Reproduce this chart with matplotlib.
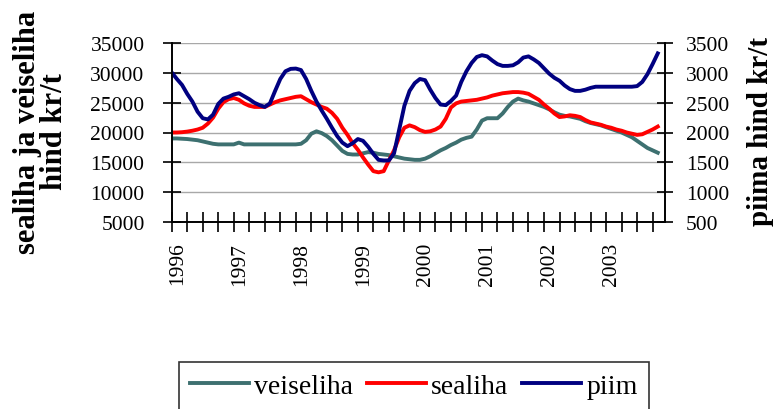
import matplotlib
matplotlib.use("Agg")
import matplotlib.pyplot as plt
from matplotlib.ticker import MultipleLocator
from matplotlib.transforms import blended_transform_factory, ScaledTranslation

plt.rcParams['font.family'] = ['Liberation Serif', 'DejaVu Serif']

years = ["1996", "1997", "1998", "1999", "2000", "2001", "2002", "2003"]

# monthly values, Jan 1996 ... Nov 2003
veiseliha = [19000, 19000, 18950, 18900, 18800, 18700, 18500, 18300, 18100, 18000,
             18000, 18000, 18000, 18300, 18000, 18000, 18000, 18000, 18000, 18000,
             18000, 18000, 18000, 18000, 18000, 18100, 18700, 19800, 20200, 19900,
             19400, 18700, 17800, 16900, 16400, 16300, 16300, 16500, 16700, 16600,
             16400, 16300, 16200, 16000, 15800, 15600, 15500, 15400, 15400, 15600,
             16000, 16500, 17000, 17400, 17900, 18300, 18800, 19100, 19300, 20500,
             22000, 22400, 22400, 22400, 23200, 24300, 25200, 25700, 25400, 25200,
             24900, 24600, 24300, 23900, 23400, 23000, 22800, 22700, 22500, 22300,
             21900, 21600, 21400, 21200, 20900, 20600, 20300, 20000, 19600, 19200,
             18600, 18000, 17400, 17000, 16600]

sealiha = [20000, 20000, 20050, 20150, 20300, 20500, 20800, 21500, 22500, 24000,
           25100, 25600, 25800, 25500, 24900, 24500, 24300, 24300, 24300, 24700,
           25100, 25400, 25600, 25800, 26000, 26100, 25600, 25100, 24700, 24300,
           24000, 23300, 22300, 20800, 19600, 18200, 17100, 15800, 14600, 13500,
           13300, 13500, 15300, 17000, 19200, 20800, 21200, 20900, 20400, 20100,
           20200, 20500, 21000, 22300, 24200, 24900, 25200, 25300, 25400, 25500,
           25700, 25900, 26200, 26400, 26600, 26700, 26800, 26800, 26700, 26500,
           26000, 25500, 24700, 24000, 23200, 22600, 22700, 22900, 22800, 22600,
           22100, 21700, 21500, 21300, 21000, 20800, 20500, 20300, 20000, 19800,
           19600, 19700, 20100, 20500, 21000]

piim = [3010, 2900, 2800, 2650, 2520, 2350, 2240, 2220, 2300, 2480,
        2570, 2600, 2640, 2660, 2610, 2560, 2500, 2460, 2430, 2490,
        2700, 2900, 3030, 3070, 3075, 3050, 2900, 2700, 2520, 2370,
        2230, 2080, 1940, 1830, 1770, 1820, 1890, 1860, 1760, 1640,
        1540, 1530, 1530, 1650, 2050, 2450, 2700, 2830, 2900, 2880,
        2720, 2580, 2470, 2460, 2530, 2620, 2850, 3030, 3170, 3270,
        3300, 3280, 3210, 3150, 3120, 3120, 3130, 3180, 3260, 3280,
        3230, 3170, 3080, 2990, 2920, 2870, 2790, 2730, 2700, 2700,
        2720, 2750, 2770, 2770, 2770, 2770, 2770, 2770, 2770, 2770,
        2780, 2850, 2980, 3150, 3330]

months = list(range(len(piim)))

W, H = 773, 410
fig = plt.figure(figsize=(W / 100, H / 100), dpi=100)
x0, x1 = 171.7, 665
y0, y1 = 44.3, 222.7
ax = fig.add_axes([x0 / W, 1 - y1 / H, (x1 - x0) / W, (y1 - y0) / H])
ax2 = ax.twinx()

c_vei = '#3d7070'
c_sea = '#ff0000'
c_pii = '#000080'
lw = 2.8

l1, = ax.plot(months, veiseliha, color=c_vei, lw=lw, label='veiseliha')
l2, = ax.plot(months, sealiha, color=c_sea, lw=lw, label='sealiha')
l3, = ax2.plot(months, piim, color=c_pii, lw=lw, label='piim')

ax.set_xlim(0, 95.4)
ax.set_ylim(5000, 35000)
ax2.set_ylim(500, 3500)
ax.set_yticks(range(5000, 35001, 5000))
ax2.set_yticks(range(500, 3501, 500))
ax.yaxis.grid(True, color='#a8a8a8', lw=1.0)
ax.set_axisbelow(True)

year_pos = [12 * i for i in range(len(years))]
ax.set_xticks(year_pos)
ax.set_xticklabels([])
ax.xaxis.set_minor_locator(MultipleLocator(3))

# year labels, rotated, slightly right of their tick (as in the original)
trans = blended_transform_factory(ax.transData, ax.transAxes) + \
    ScaledTranslation(5.5 / 100, -20 / 100, fig.dpi_scale_trans)
for p, yl in zip(year_pos, years):
    ax.text(p, 0, yl, transform=trans, rotation=90, ha='center', va='top',
            fontsize=15.5, clip_on=False)

for a in (ax, ax2):
    a.spines['top'].set_visible(False)
    for s in ('left', 'right', 'bottom'):
        a.spines[s].set_color('black')
        a.spines[s].set_linewidth(1.2)

ax.tick_params(axis='x', which='both', direction='inout', length=15, width=1.2,
               color='black')
ax.tick_params(axis='y', direction='inout', length=13, width=1.2, labelsize=15.5, pad=13)
ax2.tick_params(axis='y', direction='inout', length=12, width=1.2, labelsize=15.5, pad=9)

fig.text(41 / W, 1 - 132 / H, 'sealiha ja veiseliha\nhind kr/t', rotation=90,
         ha='center', va='center', multialignment='center', fontsize=22,
         fontweight='bold', linespacing=0.95)
fig.text(761 / W, 1 - 132 / H, 'piima hind kr/t', rotation=90,
         ha='center', va='center', fontsize=21, fontweight='bold')

leg = fig.legend(handles=[l1, l2, l3], loc='center',
                 bbox_to_anchor=(414 / W, 1 - 387 / H), ncol=3, fontsize=20,
                 frameon=True, fancybox=False, handlelength=2.1, handletextpad=0.2,
                 columnspacing=0.5, borderpad=0.4, borderaxespad=0)
leg.get_frame().set_edgecolor('black')
leg.get_frame().set_linewidth(1.2)

fig.savefig('out.png', dpi=100)
